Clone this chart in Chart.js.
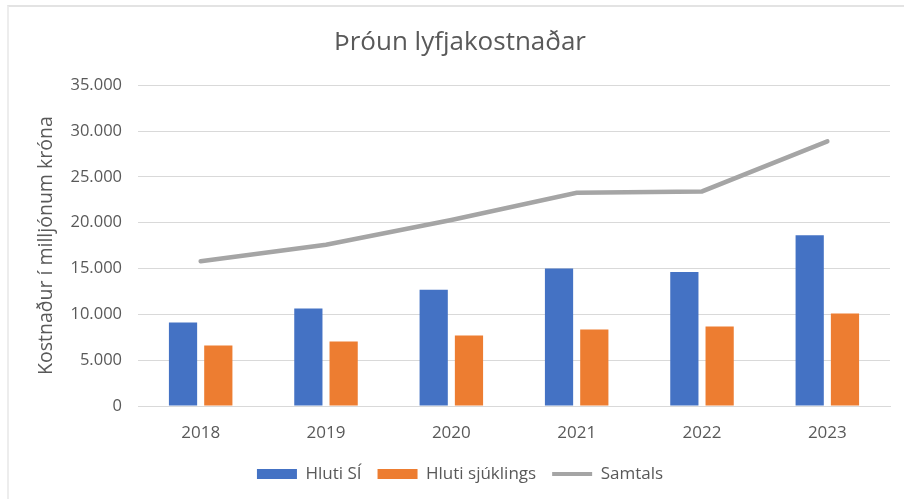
<!DOCTYPE html>
<html>
<head>
<meta charset="utf-8">
<script src="https://cdn.jsdelivr.net/npm/chart.js@4"></script>
<style>
  html, body { margin: 0; padding: 0; background: #fff; }
  #wrap { position: relative; width: 904px; height: 499px; overflow: hidden; }
  #frame { position: absolute; left: 7px; top: 5px; width: 920px; height: 520px; border-top: 2px solid #E3E3E3; border-left: 2px solid #EDEDED; box-sizing: border-box; }
  canvas { position: absolute; left: 0; top: 0; }
</style>
</head>
<body>
<div id="wrap">
  <div id="frame"></div>
  <canvas id="c" width="904" height="499"></canvas>
</div>
<script>
const chartTitle = 'Þróun lyfjakostnaðar';
const yAxisTitle = 'Kostnaður í milljónum króna';
const categories = ['2018', '2019', '2020', '2021', '2022', '2023'];
const hlutiSI = [9110, 10650, 12690, 14990, 14630, 18630];
const hlutiSjuklings = [6600, 7030, 7690, 8350, 8680, 10100];
const samtals = [15790, 17600, 20300, 23270, 23410, 28880];
const seriesNames = ['Hluti SÍ', 'Hluti sjúklings', 'Samtals'];
const yMin = 0, yMax = 35000, yStep = 5000;

const textColor = '#595959';
const fontFamily = "'Open Sans', 'Noto Sans', sans-serif";

function fmt(v) {
  return String(Math.round(v)).replace(/\B(?=(\d{3})+(?!\d))/g, '.');
}

new Chart(document.getElementById('c'), {
  data: {
    labels: categories,
    datasets: [
      { type: 'line', label: seriesNames[2], data: samtals, borderColor: '#A5A5A5', backgroundColor: '#A5A5A5', borderWidth: 4.5, pointRadius: 0, tension: 0, order: 0, borderCapStyle: 'round' },
      { type: 'bar', label: seriesNames[0], data: hlutiSI, backgroundColor: '#4472C4', categoryPercentage: 0.563, barPercentage: 0.8, order: 1 },
      { type: 'bar', label: seriesNames[1], data: hlutiSjuklings, backgroundColor: '#ED7D31', categoryPercentage: 0.563, barPercentage: 0.8, order: 2 }
    ]
  },
  options: {
    responsive: false,
    animation: false,
    devicePixelRatio: 1,
    layout: { padding: { left: 30, right: 14, top: 20, bottom: 6.5 } },
    plugins: {
      title: { display: true, text: chartTitle, color: textColor, font: { family: fontFamily, size: 26, weight: 'normal' }, padding: { top: 7, bottom: 27 } },
      legend: {
        position: 'bottom',
        labels: {
          color: textColor,
          font: { family: fontFamily, size: 17 },
          usePointStyle: true,
          pointStyleWidth: 40,
          boxHeight: 10,
          padding: 16,
          sort: (a, b) => {
            const ord = [1, 2, 0];
            return ord.indexOf(a.datasetIndex) - ord.indexOf(b.datasetIndex);
          },
          generateLabels: (chart) => chart.data.datasets.map((ds, i) => ({
            text: ds.label,
            datasetIndex: i,
            fillStyle: ds.backgroundColor,
            strokeStyle: ds.type === 'line' ? ds.borderColor : ds.backgroundColor,
            lineWidth: ds.type === 'line' ? 4 : 0,
            pointStyle: ds.type === 'line' ? 'line' : 'rect',
            fontColor: textColor,
            hidden: false
          }))
        }
      },
      tooltip: { enabled: false }
    },
    scales: {
      x: {
        grid: { display: false, drawTicks: false },
        border: { display: true, color: '#D9D9D9', width: 1 },
        ticks: { color: textColor, font: { family: fontFamily, size: 17 }, padding: 17 },
        afterFit: (s) => { s.height = 43.5; }
      },
      y: {
        min: yMin, max: yMax,
        grid: { color: '#D9D9D9', lineWidth: 1, drawTicks: false },
        border: { display: false },
        ticks: { stepSize: yStep, color: textColor, font: { family: fontFamily, size: 16.5 }, padding: 16, callback: (v) => fmt(v) },
        title: { display: true, text: yAxisTitle, color: textColor, font: { family: fontFamily, size: 19.5 }, padding: { top: 5, bottom: 6 } },
        afterFit: (s) => { s.width = 108; }
      }
    }
  }
});
</script>
</body>
</html>
